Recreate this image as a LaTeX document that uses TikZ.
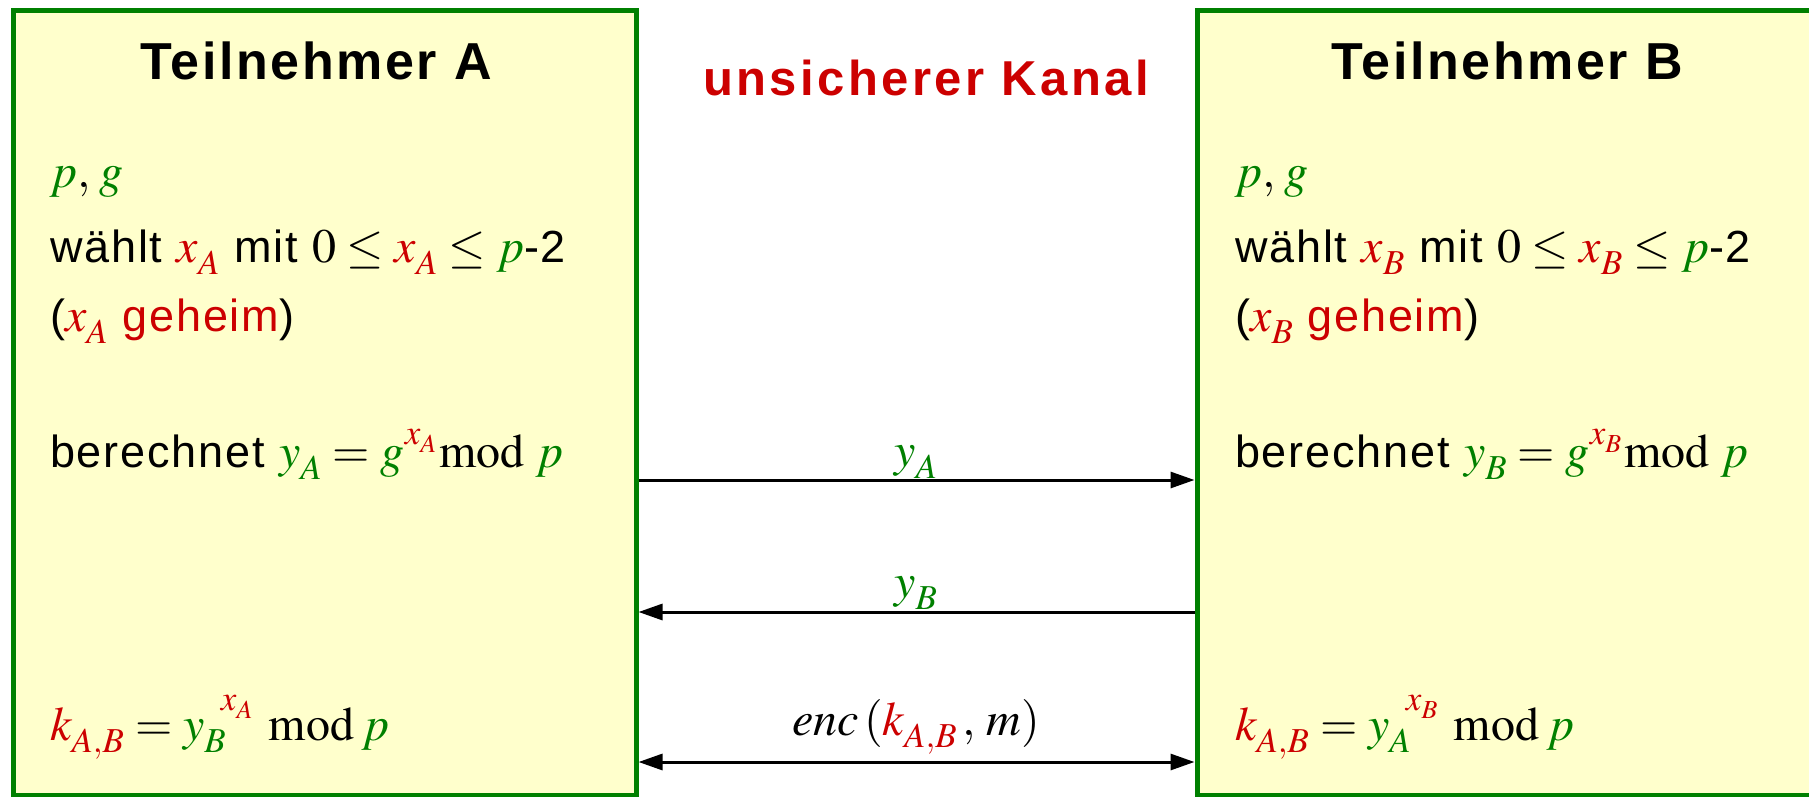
\documentclass[tikz,border=0pt]{standalone}
\usepackage{mathptmx}
\usepackage[no-math]{fontspec}
\setmainfont{Liberation Sans}[LetterSpace=4]
\newfontfamily\titlefont{Liberation Sans}[LetterSpace=5]
\newfontfamily\chanfont{Liberation Sans}[LetterSpace=7]
\usetikzlibrary{arrows.meta}
\DeclareMathSizes{45}{48}{35}{26}
\definecolor{pgreen}{RGB}{0,128,0}
\definecolor{pyellow}{RGB}{255,255,204}
\definecolor{pred}{RGB}{204,0,0}
\newcommand\cgr[1]{\textcolor{pgreen}{#1}}
\newcommand\crd[1]{\textcolor{pred}{#1}}
\newcommand\mfix{\fontdimen16\textfont2=12pt \fontdimen17\textfont2=12pt
  \fontdimen16\scriptfont2=8pt \fontdimen17\scriptfont2=8pt }
\newcommand\up[2]{\mathord{\raisebox{#1}{$\scriptstyle #2$}}}
\tikzset{
  party/.style={draw=pgreen, fill=pyellow, line width=5pt, inner sep=0pt},
  txt/.style={anchor=base west, inner sep=0pt, font=\fontsize{45}{54}\selectfont},
  lbl/.style={anchor=base, inner sep=0pt, font=\fontsize{45}{54}\selectfont},
  ttl/.style={anchor=base, inner sep=0pt, font=\titlefont\bfseries\fontsize{52}{60}\selectfont},
  msg/.style={line width=3pt, >={Triangle[length=24pt,width=16pt]}}
}
\begin{document}
\begin{tikzpicture}[x=1pt,y=-1pt]
\useasboundingbox (0,0) rectangle (1809,797);
\clip (0,0) rectangle (1809,797);
% participants
\node[party, minimum width=623pt, minimum height=784pt] (A) at (324.5,403) {};
\node[party, minimum width=633pt, minimum height=784pt] (B) at (1513.5,403) {};
% titles
\node[ttl] (tA) at (316,80) {Teilnehmer A};
\node[ttl] (tB) at (1507,80) {Teilnehmer B};
\node[anchor=base, inner sep=0pt, text=pred, font=\chanfont\bfseries\fontsize{49}{57}\selectfont] (ch) at (926,96) {unsicherer Kanal};
% A text
\node[txt] (a1) at (50,187) {$\mfix\cgr{p},\mskip1mu\cgr{g}$};
\node[txt] (a2) at (50,262) {wählt $\mfix\crd{x_A}$ mit $0 \le \crd{x_A} \le \cgr{p}$-2};
\node[txt] (a3) at (50,331) {($\mfix\crd{x_A}$ \crd{geheim})};
\node[txt] (a4) at (50,467) {berechnet $\mfix\cgr{y_A} = \cgr{g}\up{23pt}{\crd{x_A}}\mskip1mu\mathrm{mod}\mskip4mu\cgr{p}$};
\node[txt] (a5) at (50,740) {$\mfix\crd{k_{A,B}} = \cgr{y_B}\mkern-2mu\up{30pt}{\crd{x_A}}\mskip6mu\mathrm{mod}\mskip3mu\cgr{p}$};
% B text
\node[txt] (b1) at (1235,187) {$\mfix\cgr{p},\mskip1mu\cgr{g}$};
\node[txt] (b2) at (1235,262) {wählt $\mfix\crd{x_B}$ mit $0 \le \crd{x_B} \le \cgr{p}$-2};
\node[txt] (b3) at (1235,331) {($\mfix\crd{x_B}$ \crd{geheim})};
\node[txt] (b4) at (1235,467) {berechnet $\mfix\cgr{y_B} = \cgr{g}\up{23pt}{\crd{x_B}}\mskip1mu\mathrm{mod}\mskip4mu\cgr{p}$};
\node[txt] (b5) at (1235,740) {$\mfix\crd{k_{A,B}} = \cgr{y_A}\mkern-2mu\up{30pt}{\crd{x_B}}\mskip6mu\mathrm{mod}\mskip3mu\cgr{p}$};
% messages
\draw[msg, ->] (A.east |- 0,480) -- (B.west |- 0,480);
\node[lbl] (m1) at (916,466) {$\mfix\cgr{y_A}$};
\draw[msg, ->] (B.west |- 0,612) -- (A.east |- 0,612);
\node[lbl] (m2) at (916,597) {$\mfix\cgr{y_B}$};
\draw[msg, <->] (A.east |- 0,762) -- (B.west |- 0,762);
\node[lbl] (m3) at (916,735) {$\mfix enc\,(\crd{k_{A,B}}\,,\,m)$};
\end{tikzpicture}
\end{document}
